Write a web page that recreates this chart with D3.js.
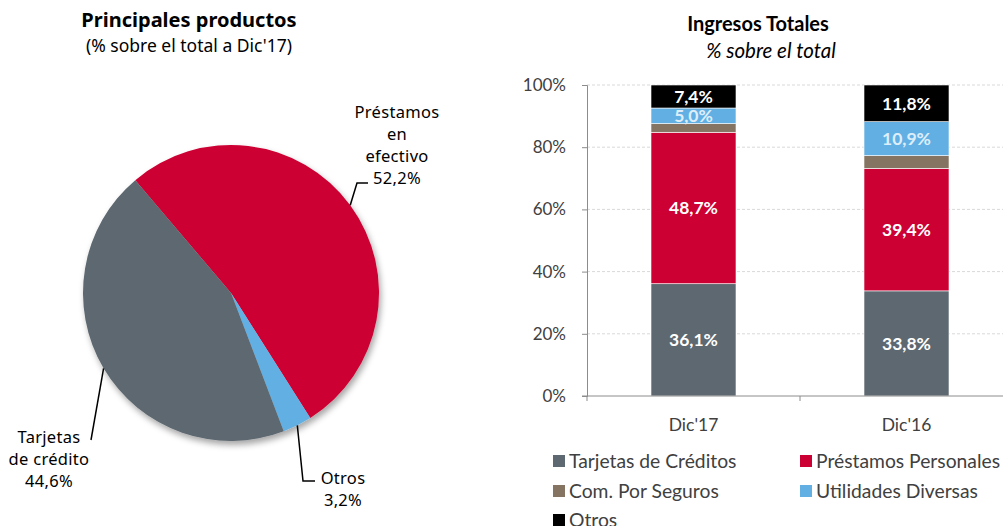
<!DOCTYPE html>
<html>
<head>
<meta charset="utf-8">
<script src="https://cdn.jsdelivr.net/npm/d3@7"></script>
<style>
  body { margin: 0; background: #fff; }
  svg { display: block; }
</style>
</head>
<body>
<div id="chart"></div>
<script>
// pie data (Dic'17)
const pieLabels = [["Préstamos", "en", "efectivo"], ["Otros"], ["Tarjetas", "de crédito"]];
const pieValues = [52.2, 3.2, 44.6];
const pieText = ["52,2%", "3,2%", "44,6%"];
const pieColors = ["#CC0033", "#62B0E3", "#5D6870"];

// stacked bars
const barCategories = ["Dic'17", "Dic'16"];
const seriesNames = ["Tarjetas de Créditos", "Préstamos Personales", "Com. Por Seguros", "Utilidades Diversas", "Otros"];
const tarjetas = [36.1, 33.8];
const prestamos = [48.7, 39.4];
const seguros = [2.8, 4.1];
const utilidades = [5.0, 10.9];
const otros = [7.4, 11.8];
const yTicks = [0, 20, 40, 60, 80, 100];
const seriesColors = ["#5D6870", "#CC0033", "#857462", "#62B0E3", "#000000"];
const labelColors = ["#fff", "#fff", null, "#DDEEFA", "#fff"];

const W = 1003, H = 526;
const svg = d3.select("#chart").append("svg").attr("width", W).attr("height", H);

const pieFont = "'Noto Sans', 'DejaVu Sans', sans-serif";
const barFont = "Lato, 'Open Sans', sans-serif";

// ---------- pie ----------
svg.append("text").attr("x", 189).attr("y", 27).attr("text-anchor", "middle")
  .style("font-family", pieFont).style("font-weight", "bold").style("font-size", "20px")
  .text("Principales productos");
svg.append("text").attr("x", 189).attr("y", 52).attr("text-anchor", "middle")
  .style("font-family", pieFont).style("font-size", "17.5px")
  .text("(% sobre el total a Dic'17)");

const defs = svg.append("defs");
const sh = defs.append("filter").attr("id", "shadow").attr("x", "-20%").attr("y", "-20%").attr("width", "140%").attr("height", "140%");
sh.append("feDropShadow").attr("dx", 2).attr("dy", 4).attr("stdDeviation", 3)
  .attr("flood-color", "#000").attr("flood-opacity", 0.35);

const cx = 231, cy = 293, r = 148;
const start = -40.3 * Math.PI / 180;
const pie = d3.pie().sort(null).startAngle(start).endAngle(start + 2 * Math.PI);
const arcs = pie(pieValues);
const arc = d3.arc().innerRadius(0).outerRadius(r);

const pg = svg.append("g").attr("transform", `translate(${cx},${cy})`);
pg.append("g").attr("filter", "url(#shadow)")
  .selectAll("path").data(arcs).enter().append("path")
  .attr("d", arc).attr("fill", (d, i) => pieColors[i]);

// label placement: [elbow x, elbow y, end x, end y, text x, first line y]
const labelPos = [
  [357, 183, 368, 183, 397, 118],
  [303, 481, 315, 481, 343, 484],
  [91, 440, 91, 440, 49, 443]
];
arcs.forEach((d, i) => {
  const a = (d.startAngle + d.endAngle) / 2;
  const sx = cx + r * Math.sin(a), sy = cy - r * Math.cos(a);
  const p = labelPos[i];
  svg.append("polyline")
    .attr("points", `${sx},${sy} ${p[0]},${p[1]} ${p[2]},${p[3]}`)
    .attr("fill", "none").attr("stroke", "#000").attr("stroke-width", 1.5);
  const lines = pieLabels[i].concat([pieText[i]]);
  const t = svg.append("text").attr("text-anchor", "middle")
    .style("font-family", pieFont).style("font-size", "16.5px").style("letter-spacing", "0.3px");
  lines.forEach((ln, j) => {
    t.append("tspan").attr("x", p[4]).attr("y", p[5] + j * 22).text(ln);
  });
});

// ---------- stacked bars ----------
svg.append("text").attr("x", 758).attr("y", 31).attr("text-anchor", "middle")
  .style("font-family", barFont).style("font-weight", "bold").style("font-size", "20px")
  .text("Ingresos Totales");
svg.append("text").attr("x", 771).attr("y", 58).attr("text-anchor", "middle")
  .style("font-family", barFont).style("font-style", "italic").style("font-size", "20.5px")
  .text("% sobre el total");

const plotLeft = 587, plotRight = 1013, plotTop = 85, plotBottom = 396;
const x = d3.scaleBand().domain(barCategories).range([plotLeft, plotRight]).paddingInner(0.6).paddingOuter(0.3);
const y = d3.scaleLinear().domain([0, 100]).range([plotBottom, plotTop]);

// gridlines
svg.append("g").selectAll("line").data(yTicks.filter(v => v > 0)).enter().append("line")
  .attr("x1", plotLeft).attr("x2", W).attr("y1", d => y(d)).attr("y2", d => y(d))
  .attr("stroke", "#D9D9D9").attr("stroke-dasharray", "3,2");

const rows = barCategories.map((c, i) => ({
  cat: c,
  s0: tarjetas[i], s1: prestamos[i], s2: seguros[i], s3: utilidades[i], s4: otros[i]
}));
const stack = d3.stack().keys(["s0", "s1", "s2", "s3", "s4"]);
const layers = stack(rows);

const bw = 85;
layers.forEach((layer, k) => {
  const g = svg.append("g");
  g.selectAll("rect").data(layer).enter().append("rect")
    .attr("x", d => x(d.data.cat) + x.bandwidth() / 2 - bw / 2)
    .attr("width", bw)
    .attr("y", d => y(d[1]))
    .attr("height", d => y(d[0]) - y(d[1]))
    .attr("fill", seriesColors[k])
    .attr("stroke", "#fff").attr("stroke-width", 0.6);
  if (labelColors[k]) {
    g.selectAll("text").data(layer).enter().append("text")
      .attr("x", d => x(d.data.cat) + x.bandwidth() / 2)
      .attr("y", d => (y(d[0]) + y(d[1])) / 2)
      .attr("dy", "0.36em").attr("text-anchor", "middle")
      .style("font-family", barFont).style("font-weight", "bold").style("font-size", "17.5px")
      .attr("fill", labelColors[k])
      .text(d => (d[1] - d[0]).toFixed(1).replace(".", ",") + "%");
  }
});

// axes
const yAxis = svg.append("g").attr("transform", `translate(${plotLeft},0)`)
  .call(d3.axisLeft(y).tickValues(yTicks).tickSize(5).tickFormat(d => d + "%"));
yAxis.select(".domain").attr("stroke", "#8C8C8C");
yAxis.selectAll(".tick line").attr("stroke", "#8C8C8C");
yAxis.selectAll(".tick text").attr("x", -21).attr("fill", "#404040")
  .style("font-family", barFont).style("font-size", "17px");

svg.append("line").attr("x1", plotLeft - 5).attr("x2", W).attr("y1", plotBottom).attr("y2", plotBottom)
  .attr("stroke", "#8C8C8C");
svg.append("g").selectAll("line").data([plotLeft, plotLeft + (plotRight - plotLeft) / 2]).enter().append("line")
  .attr("x1", d => d).attr("x2", d => d).attr("y1", plotBottom).attr("y2", plotBottom + 5)
  .attr("stroke", "#8C8C8C");
svg.append("g").selectAll("text").data(barCategories).enter().append("text")
  .attr("x", d => x(d) + x.bandwidth() / 2).attr("y", 431).attr("text-anchor", "middle")
  .attr("fill", "#404040")
  .style("font-family", barFont).style("font-size", "17.5px")
  .text(d => d);

// legend
const legendPos = [[553, 461], [800, 461], [553, 491], [800, 491], [553, 520]];
const lg = svg.append("g");
seriesNames.forEach((name, k) => {
  const p = legendPos[k];
  lg.append("rect").attr("x", p[0]).attr("y", p[1] - 6).attr("width", 12).attr("height", 12)
    .attr("fill", seriesColors[k]);
  lg.append("text").attr("x", p[0] + 16).attr("y", p[1]).attr("dy", "0.36em")
    .attr("fill", "#404040")
    .style("font-family", barFont).style("font-size", "19.3px")
    .text(name);
});
</script>
</body>
</html>
